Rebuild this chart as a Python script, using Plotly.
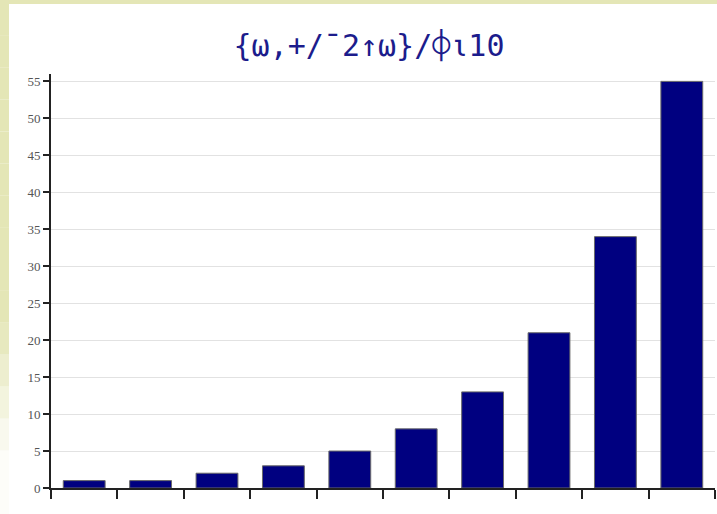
import plotly.graph_objects as go

categories = list(range(10))
values = [1, 1, 2, 3, 5, 8, 13, 21, 34, 55]
ytick_vals = [0, 5, 10, 15, 20, 25, 30, 35, 40, 45, 50, 55]
ytick_text = [str(v) for v in ytick_vals]
title_text = "{\u2375,+/\u00af2\u2191\u2375}/\u233d\u237310"

W, H = 717, 514
L, R, T, B = 51, 2, 74, 26
PW, PH = W - L - R, H - T - B


def px_x(x):
    return (x - L) / PW


def px_y(y):
    return (H - B - y) / PH


fig = go.Figure()
fig.add_trace(go.Bar(
    x=categories, y=values,
    marker=dict(color="#000080", line=dict(color="#6a6a6a", width=1)),
    width=0.63,
    hoverinfo="skip",
))

olive = "#e4e6b6"
shapes = []
# top olive strip
shapes.append(dict(type="rect", xref="paper", yref="paper",
                   x0=px_x(0), x1=px_x(W), y0=px_y(4), y1=px_y(0),
                   fillcolor=olive, line=dict(width=0), layer="above"))
# left olive strip, fading toward the bottom
n = 16
top_px, bot_px = 4, 514
for i in range(n):
    y_top = top_px + (bot_px - top_px) * i / n
    y_bot = top_px + (bot_px - top_px) * (i + 1) / n
    mid = (y_top + y_bot) / 2
    if mid < 320:
        op = 1.0
    else:
        op = max(0.08, 1.0 - (mid - 320) / 150)
    shapes.append(dict(type="rect", xref="paper", yref="paper",
                       x0=px_x(0), x1=px_x(9), y0=px_y(y_bot), y1=px_y(y_top),
                       fillcolor=olive, opacity=op, line=dict(width=0), layer="above"))

fig.update_layout(
    width=W, height=H,
    margin=dict(l=L, r=R, t=T, b=B),
    paper_bgcolor="white", plot_bgcolor="white",
    showlegend=False,
    bargap=0.37,
    shapes=shapes,
    title=dict(text=title_text, x=369 / W, xanchor="center", xref="container",
               y=1 - 45 / H, yanchor="middle", yref="container",
               font=dict(family="DejaVu Sans Mono", size=30, color="#1c1c8c")),
    xaxis=dict(range=[-0.5, 9.5], tickmode="array",
               tickvals=[c - 0.5 for c in categories] + [9.5], ticktext=[""] * 11,
               ticks="outside", ticklen=9, tickwidth=1.5, tickcolor="#222",
               showline=True, linecolor="#222", linewidth=1.5,
               showgrid=False, zeroline=False, fixedrange=True),
    yaxis=dict(range=[0, 56], tickmode="array", tickvals=ytick_vals, ticktext=ytick_text,
               ticks="outside", ticklen=6, tickwidth=1.5, tickcolor="#222",
               showline=True, linecolor="#222", linewidth=2,
               showgrid=True, gridcolor="#e2e2e2", gridwidth=1,
               zeroline=False,
               tickfont=dict(family="Liberation Serif", size=13, color="#555"),
               fixedrange=True),
)

fig.write_html("out.html", config={"displayModeBar": False},
               post_script="document.body.style.margin='0';")
